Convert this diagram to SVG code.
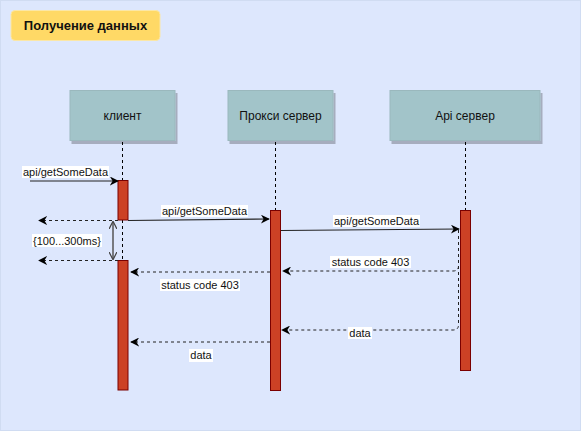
<svg xmlns="http://www.w3.org/2000/svg" width="582" height="432" viewBox="0 0 582 432">
<defs>
<marker id="ah" viewBox="0 0 10 10" refX="9" refY="5" markerWidth="9" markerHeight="9" markerUnits="userSpaceOnUse" orient="auto-start-reverse">
<path d="M0,0 L10,5 L0,10 L3,5 Z" fill="#000"/>
</marker>
<marker id="ahg" viewBox="0 0 10 10" refX="9" refY="5" markerWidth="8" markerHeight="8" markerUnits="userSpaceOnUse" orient="auto-start-reverse">
<path d="M0,0 L10,5 L0,10" fill="none" stroke="#444" stroke-width="1.5"/>
</marker>
<filter id="sh" x="-10%" y="-10%" width="130%" height="130%">
<feDropShadow dx="2" dy="3" stdDeviation="0.6" flood-color="#000" flood-opacity="0.25"/>
</filter>
</defs>
<style>
text{font-family:"Liberation Sans",Arial,sans-serif;fill:#111;}
.actor rect{fill:#a2c4c9;stroke:#9ab8bd;stroke-width:1;}
.actor text{font-size:12px;text-anchor:middle;}
.life{stroke:#000;stroke-width:1;stroke-dasharray:3 3;fill:none;}
.bar{fill:#cc4125;stroke:#7a0000;stroke-width:1;}
.msg{stroke:#222;stroke-width:1.2;fill:none;marker-end:url(#ah);}
.ret{stroke:#222;stroke-width:1;stroke-dasharray:3 3;fill:none;marker-end:url(#ah);}
.lbl rect{fill:#fff;}
.lbl text{font-size:11px;text-anchor:middle;}
</style>
<rect x="0.5" y="0.5" width="580" height="430" fill="#dde7fd" stroke="#d0dcf2"/>
<g id="title">
<rect x="11" y="10.5" width="149" height="30" rx="4" fill="#ffd966" stroke="#fbe7a6"/>
<text x="85.5" y="30" font-size="13" font-weight="bold" text-anchor="middle">Получение данных</text>
</g>
<g id="lifelines">
<line class="life" x1="122.5" y1="142" x2="122.5" y2="180"/>
<line class="life" x1="122.5" y1="220" x2="122.5" y2="260" stroke="#555"/>
<line class="life" x1="275.5" y1="142" x2="275.5" y2="210"/>
<line class="life" x1="465.5" y1="142" x2="465.5" y2="210"/>
</g>
<g id="client" class="actor">
<rect x="70" y="90.5" width="105" height="50" filter="url(#sh)"/>
<text x="122.5" y="120">клиент</text>
</g>
<g id="proxy" class="actor">
<rect x="228" y="90.5" width="105" height="50" filter="url(#sh)"/>
<text x="280.5" y="120">Прокси сервер</text>
</g>
<g id="api" class="actor">
<rect x="390" y="90.5" width="150" height="50" filter="url(#sh)"/>
<text x="465" y="120">Api сервер</text>
</g>
<g id="bars">
<rect class="bar" x="118" y="180.5" width="10" height="39.5"/>
<rect class="bar" x="118" y="260.5" width="10" height="129.5"/>
<rect class="bar" x="270.5" y="210.5" width="10" height="180"/>
<rect class="bar" x="460.5" y="210.5" width="10" height="160"/>
</g>
<g id="connectors">
<line class="msg" x1="30" y1="181" x2="118" y2="181"/>
<line class="msg" x1="128" y1="220.5" x2="269" y2="219"/>
<line class="msg" x1="281" y1="230.5" x2="459" y2="229"/>
<path class="ret" d="M458.5 230 L458.5 266 Q458.5 271 453 271 L283 271"/>
<path class="ret" d="M458.5 266 L458.5 325 Q458.5 330 453 330 L282 330"/>
<line class="ret" x1="270" y1="272" x2="131" y2="272" stroke="#444"/>
<line class="ret" x1="270" y1="342" x2="131" y2="342" stroke="#444"/>
<line class="ret" x1="118" y1="220.5" x2="39" y2="220.5"/>
<line class="ret" x1="118" y1="260.5" x2="39" y2="260.5"/>
<line x1="113" y1="222" x2="113" y2="259" stroke="#555" stroke-width="1.5" marker-start="url(#ahg)" marker-end="url(#ahg)"/>
</g>
<g id="labels">
<g class="lbl"><rect x="22" y="166" width="87" height="12"/><text x="65.5" y="176">api/getSomeData</text></g>
<g class="lbl"><rect x="161" y="205" width="87" height="12"/><text x="204.5" y="215">api/getSomeData</text></g>
<g class="lbl"><rect x="333" y="215" width="87" height="12"/><text x="376.5" y="225">api/getSomeData</text></g>
<g class="lbl"><rect x="330" y="256" width="81" height="12"/><text x="370.5" y="266">status code 403</text></g>
<g class="lbl"><rect x="160" y="279" width="80" height="12"/><text x="200" y="289">status code 403</text></g>
<g class="lbl"><rect x="348" y="327" width="24" height="12"/><text x="360" y="337">data</text></g>
<g class="lbl"><rect x="189" y="349" width="24" height="13"/><text x="201" y="359">data</text></g>
<g class="lbl"><rect x="32" y="234" width="70" height="13"/><text x="67" y="245">{100...300ms}</text></g>
</g>
</svg>
